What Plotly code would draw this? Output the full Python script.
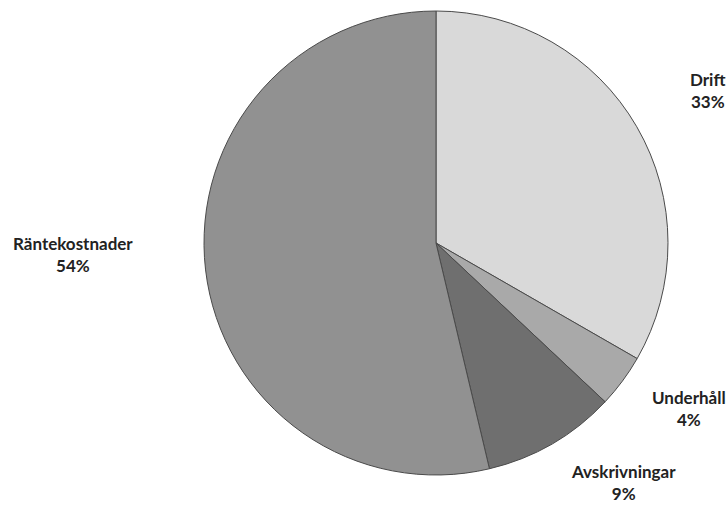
import plotly.graph_objects as go

categories = ["Drift", "Underhåll", "Avskrivningar", "Räntekostnader"]
values = [33.3, 3.7, 9.3, 53.7]
pct_labels = ["33%", "4%", "9%", "54%"]
colors = ["#d9d9d9", "#a9a9a9", "#6f6f6f", "#919191"]

W, H = 728, 510
cx, cy, r = 436, 243, 232

fig = go.Figure()
fig.add_trace(go.Pie(
    labels=categories, values=values, sort=False, direction="clockwise",
    rotation=0, textinfo="none", hoverinfo="label+percent",
    marker=dict(colors=colors, line=dict(color="#4a4a4a", width=1)),
    domain=dict(x=[(cx - r) / W, (cx + r) / W], y=[(H - cy - r) / H, (H - cy + r) / H]),
    showlegend=False,
))

label_pos = [(707, 90), (689, 408), (623, 482), (73, 254)]
for name, pct, (x, y) in zip(categories, pct_labels, label_pos):
    fig.add_annotation(
        x=x / W, y=1 - y / H, xref="paper", yref="paper",
        text=f"<b>{name}</b><br><b>{pct}</b>", showarrow=False,
        font=dict(family="Lato", size=17, color="#222222"),
        align="center", xanchor="center", yanchor="middle",
    )

fig.update_layout(
    width=W, height=H, margin=dict(l=0, r=0, t=0, b=0),
    paper_bgcolor="white", plot_bgcolor="white",
)
fig.write_html("out.html")
